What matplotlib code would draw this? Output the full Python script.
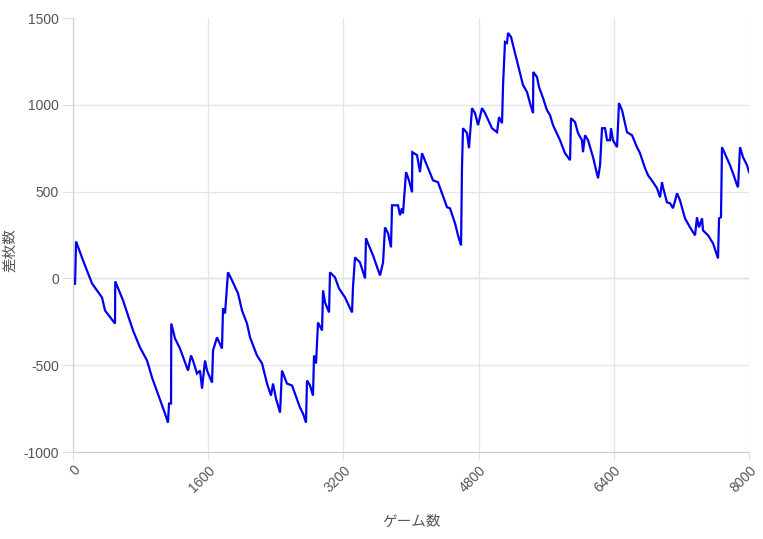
import matplotlib.pyplot as plt

plt.rcParams['font.family'] = ['Liberation Sans', 'Noto Sans CJK JP', 'DejaVu Sans']
plt.rcParams['axes.unicode_minus'] = False

# ゲーム数 / 差枚数
games = [0, 24, 36, 118, 225, 343, 379, 497, 500, 592, 710, 793, 876, 935, 1089, 1124,
         1136, 1160, 1163, 1207, 1266, 1361, 1396, 1420, 1467, 1503, 1527, 1562, 1586,
         1645, 1657, 1704, 1763, 1775, 1799, 1834, 1882, 1953, 2000, 2059, 2095, 2154,
         2177, 2237, 2296, 2343, 2367, 2402, 2450, 2473, 2532, 2592, 2686, 2722, 2757,
         2769, 2805, 2840, 2852, 2876, 2899, 2947, 2959, 2982, 3030, 3041, 3100, 3148,
         3219, 3302, 3313, 3337, 3396, 3456, 3467, 3491, 3550, 3633, 3669, 3692, 3728,
         3763, 3775, 3846, 3870, 3893, 3905, 3941, 3976, 4012, 4015, 4071, 4106, 4130,
         4201, 4260, 4319, 4367, 4426, 4461, 4521, 4556, 4592, 4603, 4615, 4663, 4686,
         4722, 4757, 4793, 4840, 4876, 4958, 5018, 5041, 5077, 5089, 5112, 5136, 5148,
         5183, 5231, 5290, 5325, 5373, 5408, 5444, 5447, 5491, 5515, 5562, 5609, 5645,
         5680, 5763, 5822, 5882, 5893, 5941, 5976, 6023, 6035, 6059, 6095, 6154, 6213,
         6237, 6260, 6296, 6320, 6355, 6367, 6390, 6438, 6461, 6497, 6556, 6615, 6674,
         6710, 6769, 6805, 6864, 6911, 6947, 6970, 6982, 7029, 7065, 7100, 7148, 7183,
         7242, 7302, 7361, 7384, 7408, 7444, 7455, 7515, 7574, 7633, 7645, 7668, 7680,
         7739, 7775, 7810, 7858, 7870, 7893, 7929, 7976, 8000]
diff = [0, -35, 213, 104, -29, -110, -185, -260, -17, -127, -300, -398, -473, -571, -779, -831,
        -721, -721, -260, -346, -404, -531, -444, -473, -548, -531, -635, -473, -531,
        -600, -415, -340, -404, -173, -202, 35, -12, -87, -185, -260, -340, -415,
        -444, -490, -606, -675, -606, -692, -773, -531, -606, -617, -744, -779, -831,
        -588, -617, -675, -444, -490, -254, -300, -69, -138, -196, 35, 6, -58,
        -110, -196, -52, 121, 92, 0, 231, 202, 133, 17, 92, 294, 260,
        179, 421, 421, 364, 404, 375, 612, 565, 496, 727, 710, 612, 721,
        635, 565, 554, 490, 410, 404, 317, 248, 190, 635, 865, 837, 750,
        981, 952, 883, 981, 952, 865, 842, 929, 894, 1114, 1362, 1356, 1414,
        1391, 1298, 1183, 1114, 1073, 1010, 952, 1189, 1160, 1102, 1039, 969, 940,
        883, 796, 721, 681, 923, 900, 837, 796, 727, 825, 796, 698, 577,
        652, 865, 865, 796, 796, 865, 796, 756, 1010, 969, 842, 825, 756,
        721, 635, 594, 554, 519, 467, 554, 525, 438, 433, 404, 490, 450,
        346, 294, 248, 352, 294, 346, 277, 248, 202, 115, 346, 352, 756,
        692, 652, 606, 537, 525, 756, 698, 652, 612]

x_ticks = [0, 1600, 3200, 4800, 6400, 8000]
y_ticks = [-1000, -500, 0, 500, 1000, 1500]

fig = plt.figure(figsize=(7.63, 5.39), dpi=100)
ax = fig.add_axes([0.0957, 0.1614, 0.886, 0.8052])

ax.plot(games, diff, color='#0000ee', linewidth=1.6, solid_joinstyle='miter')

ax.set_xlim(0, 8000)
ax.set_ylim(-1000, 1500)
ax.set_xticks(x_ticks)
ax.set_yticks(y_ticks)
ax.set_xticklabels([str(t) for t in x_ticks], rotation=45, ha='right', va='top',
                   rotation_mode='anchor')

ax.grid(True, color='#e6e6e6', linewidth=1)
ax.get_ygridlines()[-1].set_visible(False)
ax.axhline(0, color='#cccccc', linewidth=1, zorder=1)
ax.tick_params(axis='both', colors='#e0e0e0', labelcolor='#555555', labelsize=10)
ax.tick_params(axis='y', length=8, pad=2)
ax.tick_params(axis='x', length=6, pad=2)

for side in ['top', 'right']:
    ax.spines[side].set_visible(False)
for side in ['left', 'bottom']:
    ax.spines[side].set_color('#cccccc')

ax.set_xlabel('ゲーム数', color='#555555', fontsize=10.5,
              family=['Noto Sans CJK JP', 'DejaVu Sans'])
ax.xaxis.set_label_coords(0.5, -0.145)
ax.set_ylabel('差枚数', color='#555555', fontsize=10.5,
              family=['Noto Sans CJK JP', 'DejaVu Sans'])
ax.yaxis.set_label_coords(-0.083, 0.465)

fig.savefig('out.png', dpi=100)
